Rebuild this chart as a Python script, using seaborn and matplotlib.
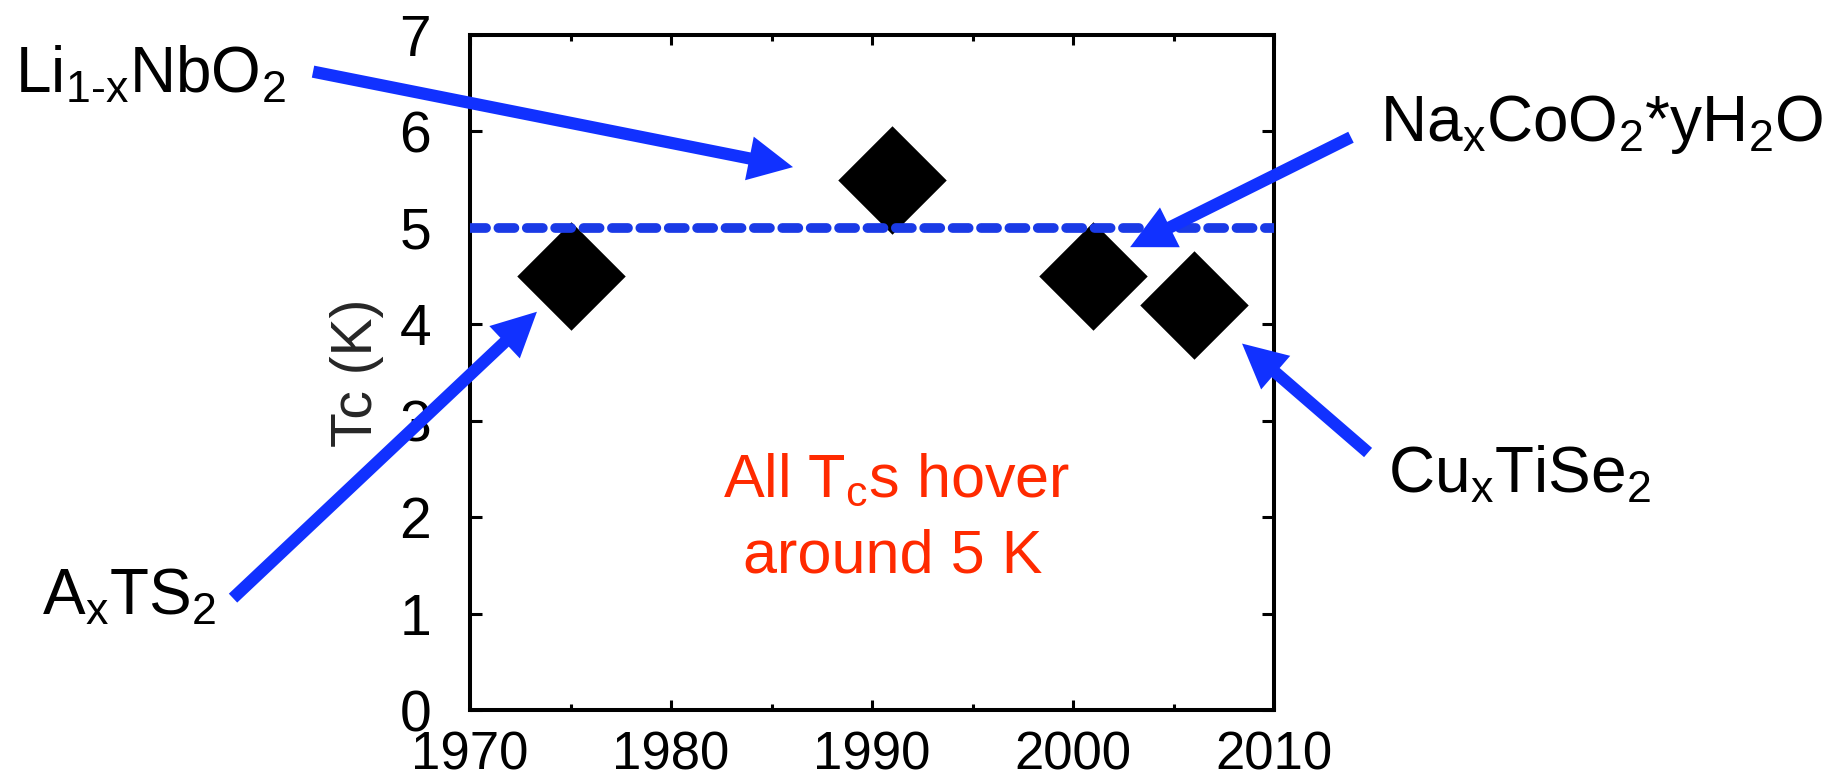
import matplotlib
matplotlib.use("Agg")
import matplotlib.pyplot as plt
from matplotlib.ticker import MultipleLocator, FixedLocator
import seaborn as sns

# Superconducting transition temperature versus year of discovery
years = [1975, 1991, 2001, 2006]
tc_kelvin = [4.5, 5.5, 4.5, 4.2]
compounds = [
    r"A$_{\mathrm{x}}$TS$_2$",
    r"Li$_{\mathrm{1}\text{-}\mathrm{x}}$NbO$_2$",
    r"Na$_{\mathrm{x}}$CoO$_2$*yH$_2$O",
    r"Cu$_{\mathrm{x}}$TiSe$_2$",
]

# Common ~5 K level
guide_years = [1970, 2010]
guide_tc = [5, 5]

x_ticks = [1970, 1980, 1990, 2000, 2010]
y_ticks = [0, 1, 2, 3, 4, 5, 6, 7]

BLUE = "#1131FF"
GUIDE = "#1A3AE6"
RED = "#FF2A00"

sns.set_style("ticks")
plt.rcParams["font.family"] = ["Liberation Sans", "DejaVu Sans"]
plt.rcParams["mathtext.fontset"] = "custom"
plt.rcParams["mathtext.rm"] = "Liberation Sans"
plt.rcParams["mathtext.it"] = "Liberation Sans:italic"
plt.rcParams["mathtext.bf"] = "Liberation Sans:bold"
plt.rcParams["text.color"] = "black"

fig = plt.figure(figsize=(18.38, 7.82), dpi=100)
fig.patch.set_facecolor("white")
ax = fig.add_axes([470 / 1838, 72 / 782, 804 / 1838, 675 / 782])

sns.scatterplot(x=years, y=tc_kelvin, marker="D", s=3050, color="black",
                linewidth=0, ax=ax, zorder=3, legend=False)
sns.lineplot(x=guide_years, y=guide_tc, color=GUIDE, linewidth=7,
             linestyle=(0, (1.65, 1.27)), dash_capstyle="round",
             ax=ax, zorder=4, legend=False)

ax.set_xlim(guide_years[0], guide_years[1])
ax.set_ylim(y_ticks[0], y_ticks[-1])
ax.xaxis.set_major_locator(FixedLocator(x_ticks))
ax.xaxis.set_minor_locator(MultipleLocator(5))
ax.yaxis.set_major_locator(FixedLocator(y_ticks))
ax.set_xticklabels([str(t) for t in x_ticks])
ax.set_yticklabels([str(t) for t in y_ticks])

for sp in ax.spines.values():
    sp.set_linewidth(2.9)
    sp.set_color("black")
    sp.set_visible(True)

ax.tick_params(axis="both", which="both", direction="in", top=True,
               right=True, width=2.2, color="black", labelcolor="black")
ax.tick_params(axis="x", which="major", length=7.2, pad=15, labelsize=38)
ax.tick_params(axis="x", which="minor", length=4)
ax.tick_params(axis="y", which="major", length=8.6, pad=28, labelsize=41)

ax.set_ylabel("Tc (K)", fontsize=41, labelpad=11)
ax.set_xlabel("")

# Red note inside the frame
ax.text(1991.24, 2.22, r"All T$_{\mathrm{c}}$s hover", ha="center",
        va="baseline", fontsize=44, color=RED, zorder=5)
ax.text(1991.04, 1.43, "around 5 K", ha="center", va="baseline",
        fontsize=44, color=RED, zorder=5)

# Compound labels around the frame (left edge, baseline in figure pixels)
label_spots = [(42, 615), (15, 93), (1380, 141), (1388, 493)]
for name, (px, py) in zip(compounds, label_spots):
    fig.text(px / 1838, 1 - py / 782, name, fontsize=46, ha="left",
             va="baseline", color="black")

# Pointer arrows: (tail, tip) in data coordinates
pointers = [
    ((1958.21, 1.16), (1973.33, 4.13)),
    ((1962.19, 6.62), (1986.07, 5.63)),
    ((2013.83, 5.94), (2002.84, 4.80)),
    ((2014.68, 2.67), (2008.41, 3.80)),
]
for tail, tip in pointers:
    ann = ax.annotate(
        "", xy=tip, xytext=tail, xycoords="data", textcoords="data",
        annotation_clip=False, zorder=6,
        arrowprops=dict(
            arrowstyle="simple,head_length=32,head_width=32,tail_width=8.8",
            mutation_scale=1, shrinkA=0, shrinkB=0, color=BLUE, lw=0,
        ),
    )
    ann.arrow_patch.set_clip_on(False)

fig.savefig("out.png", dpi=100)
